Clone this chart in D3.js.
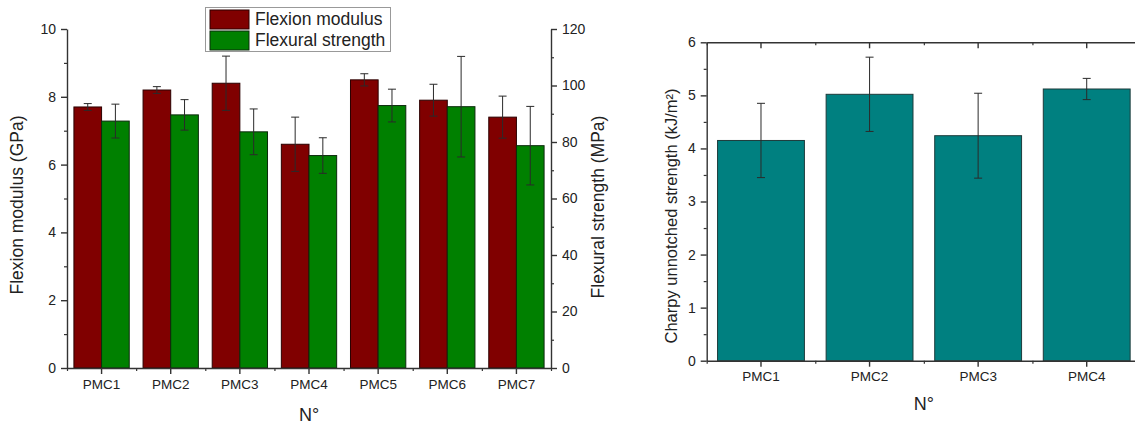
<!DOCTYPE html>
<html>
<head>
<meta charset="utf-8">
<script src="https://cdn.jsdelivr.net/npm/d3@7"></script>
<style>
  html, body { margin: 0; padding: 0; background: #fff; }
  svg { display: block; font-family: "Liberation Sans", Arial, sans-serif; }
</style>
</head>
<body>
<svg id="chart" width="1135" height="425"></svg>
<script>
// ---------- data ----------
const categoriesLeft = ["PMC1", "PMC2", "PMC3", "PMC4", "PMC5", "PMC6", "PMC7"];
const seriesNames = ["Flexion modulus", "Flexural strength"];
const flexionModulus = [7.7, 8.2, 8.4, 6.6, 8.5, 7.9, 7.4];
const flexionModulusErr = [0.1, 0.1, 0.8, 0.8, 0.18, 0.47, 0.62];
const flexuralStrength = [87.4, 89.6, 83.6, 75.2, 92.9, 92.5, 78.7];
const flexuralStrengthErr = [6.0, 5.4, 8.1, 6.3, 5.8, 17.8, 13.9];
const leftTicksGPa = [0, 2, 4, 6, 8, 10];
const rightTicksMPa = [0, 20, 40, 60, 80, 100, 120];

const categoriesRight = ["PMC1", "PMC2", "PMC3", "PMC4"];
const charpy = [4.15, 5.02, 4.24, 5.12];
const charpyErr = [0.7, 0.7, 0.8, 0.2];
const charpyTicks = [0, 1, 2, 3, 4, 5, 6];

// ---------- styles ----------
const RED = "#800000", GREEN = "#008000", TEAL = "#008080";
const AXIS = "#333", TXT = "#222";
const svg = d3.select("#chart");
const fmtInt = d3.format("d");

function styleAxis(g, fontSize) {
  g.selectAll("path.domain").attr("stroke", AXIS).attr("stroke-width", 1.4);
  g.selectAll(".tick line").attr("stroke", AXIS).attr("stroke-width", 1.4);
  g.selectAll(".tick text").attr("fill", TXT)
    .style("font-size", fontSize + "px")
    .style("font-family", '"Liberation Sans", Arial, sans-serif');
}
function minorAxis(g, axis) {
  g.call(axis);
  g.select("path.domain").remove();
  g.selectAll(".tick text").remove();
  g.selectAll(".tick line").attr("stroke", AXIS).attr("stroke-width", 1.2);
}
function errorBars(g, data, xf, yf, cap) {
  const eg = g.append("g").attr("stroke", "#2a2a2a").attr("stroke-width", 1).attr("fill", "none");
  data.forEach(d => {
    const cx = xf(d), top = yf(d.v + d.e), bot = yf(d.v - d.e);
    eg.append("line").attr("x1", cx).attr("x2", cx).attr("y1", top).attr("y2", bot);
    eg.append("line").attr("x1", cx - cap).attr("x2", cx + cap).attr("y1", top).attr("y2", top);
    eg.append("line").attr("x1", cx - cap).attr("x2", cx + cap).attr("y1", bot).attr("y2", bot);
  });
}

// ================= LEFT CHART =================
const L = { x0: 67, x1: 551, yTop: 29, yBot: 368 };
const xL = d3.scaleBand().domain(categoriesLeft).range([L.x0, L.x1]).paddingInner(0.2).paddingOuter(0.1);
const xLsub = d3.scaleBand().domain(seriesNames).range([0, xL.bandwidth()]);
const xLminor = d3.scaleLinear().domain([0, categoriesLeft.length]).range([L.x0, L.x1]);
const yL = d3.scaleLinear().domain([0, 10]).range([L.yBot, L.yTop]);
const yR = d3.scaleLinear().domain([0, 120]).range([L.yBot, L.yTop]);

const left = svg.append("g");
const rowsL = categoriesLeft.map((c, i) => ({
  c, mod: flexionModulus[i], modE: flexionModulusErr[i], str: flexuralStrength[i], strE: flexuralStrengthErr[i]
}));

// bars
left.append("g").selectAll("rect.mod").data(rowsL).join("rect")
  .attr("x", d => xL(d.c) + xLsub(seriesNames[0]))
  .attr("y", d => yL(d.mod))
  .attr("width", xLsub.bandwidth())
  .attr("height", d => yL(0) - yL(d.mod))
  .attr("fill", RED).attr("stroke", "#2b0000").attr("stroke-width", 1);
left.append("g").selectAll("rect.str").data(rowsL).join("rect")
  .attr("x", d => xL(d.c) + xLsub(seriesNames[1]))
  .attr("y", d => yR(d.str))
  .attr("width", xLsub.bandwidth())
  .attr("height", d => yR(0) - yR(d.str))
  .attr("fill", GREEN).attr("stroke", "#0c2a0c").attr("stroke-width", 1);

errorBars(left, rowsL.map(d => ({ c: d.c, v: d.mod, e: d.modE })),
  d => xL(d.c) + xLsub(seriesNames[0]) + xLsub.bandwidth() / 2, yL, 4);
errorBars(left, rowsL.map(d => ({ c: d.c, v: d.str, e: d.strE })),
  d => xL(d.c) + xLsub(seriesNames[1]) + xLsub.bandwidth() / 2, yR, 4);

// axes
const gLy = left.append("g").attr("transform", `translate(${L.x0},0)`)
  .call(d3.axisLeft(yL).tickValues(leftTicksGPa).tickFormat(fmtInt).tickSizeInner(6).tickSizeOuter(0).tickPadding(5));
styleAxis(gLy, 14);
minorAxis(left.append("g").attr("transform", `translate(${L.x0},0)`),
  d3.axisLeft(yL).tickValues([1, 3, 5, 7, 9]).tickSize(3));

const gRy = left.append("g").attr("transform", `translate(${L.x1},0)`)
  .call(d3.axisRight(yR).tickValues(rightTicksMPa).tickFormat(fmtInt).tickSizeInner(6).tickSizeOuter(0).tickPadding(5));
styleAxis(gRy, 14);
minorAxis(left.append("g").attr("transform", `translate(${L.x1},0)`),
  d3.axisRight(yR).tickValues([10, 30, 50, 70, 90, 110]).tickSize(3));

const gLx = left.append("g").attr("transform", `translate(0,${L.yBot})`)
  .call(d3.axisBottom(xL).tickSizeInner(6).tickSizeOuter(0).tickPadding(5));
styleAxis(gLx, 13.5);
minorAxis(left.append("g").attr("transform", `translate(0,${L.yBot})`),
  d3.axisBottom(xLminor).tickValues(d3.range(0, categoriesLeft.length + 1)).tickSize(3));

// titles
left.append("text").attr("transform", `translate(23,205) rotate(-90)`)
  .attr("text-anchor", "middle").attr("fill", TXT).style("font-size", "17.5px")
  .text("Flexion modulus (GPa)");
left.append("text").attr("transform", `translate(604,207) rotate(-90)`)
  .attr("text-anchor", "middle").attr("fill", TXT).style("font-size", "17.5px")
  .text("Flexural strength (MPa)");
left.append("text").attr("x", (L.x0 + L.x1) / 2).attr("y", 421)
  .attr("text-anchor", "middle").attr("fill", TXT).style("font-size", "18px").text("N°");

// legend
const lg = left.append("g");
lg.append("rect").attr("x", 205.5).attr("y", 7.5).attr("width", 185).attr("height", 44)
  .attr("fill", "#fff").attr("stroke", "#999").attr("stroke-width", 1);
[RED, GREEN].forEach((col, i) => {
  lg.append("rect").attr("x", 210).attr("y", 10 + i * 21).attr("width", 39).attr("height", 19)
    .attr("fill", col).attr("stroke", i === 0 ? "#2b0000" : "#0c2a0c").attr("stroke-width", 1);
  lg.append("text").attr("x", 255).attr("y", 25 + i * 21).attr("fill", TXT)
    .style("font-size", "17.5px").text(seriesNames[i]);
});

// ================= RIGHT CHART =================
const R = { x0: 706.7, x1: 1141, yTop: 42.3, yBot: 360.7 };
const xC = d3.scaleBand().domain(categoriesRight).range([R.x0, R.x1]).paddingInner(0.2).paddingOuter(0.1);
const xCminor = d3.scaleLinear().domain([0, categoriesRight.length]).range([R.x0, R.x1]);
const yC = d3.scaleLinear().domain([0, 6]).range([R.yBot, R.yTop]);
const right = svg.append("g");
const rowsR = categoriesRight.map((c, i) => ({ c, v: charpy[i], e: charpyErr[i] }));

right.append("g").selectAll("rect").data(rowsR).join("rect")
  .attr("x", d => xC(d.c)).attr("y", d => yC(d.v))
  .attr("width", xC.bandwidth()).attr("height", d => yC(0) - yC(d.v))
  .attr("fill", TEAL).attr("stroke", "#1d3b3b").attr("stroke-width", 1);
errorBars(right, rowsR, d => xC(d.c) + xC.bandwidth() / 2, yC, 4);

const halfTicks = [0.5, 1.5, 2.5, 3.5, 4.5, 5.5];
const gCy = right.append("g").attr("transform", `translate(${R.x0},0)`)
  .call(d3.axisLeft(yC).tickValues(charpyTicks).tickFormat(fmtInt).tickSizeInner(6).tickSizeOuter(0).tickPadding(5));
styleAxis(gCy, 14);
minorAxis(right.append("g").attr("transform", `translate(${R.x0},0)`),
  d3.axisLeft(yC).tickValues(halfTicks).tickSize(3));

const gCyR = right.append("g").attr("transform", `translate(${R.x1},0)`)
  .call(d3.axisRight(yC).tickValues(charpyTicks).tickSizeInner(-6).tickSizeOuter(0).tickFormat(""));
styleAxis(gCyR, 14);

const gCx = right.append("g").attr("transform", `translate(0,${R.yBot})`)
  .call(d3.axisBottom(xC).tickSizeInner(6).tickSizeOuter(0).tickPadding(5));
styleAxis(gCx, 13.5);
minorAxis(right.append("g").attr("transform", `translate(0,${R.yBot})`),
  d3.axisBottom(xCminor).tickValues(d3.range(0, categoriesRight.length + 1)).tickSize(3));

const gCt = right.append("g").attr("transform", `translate(0,${R.yTop})`)
  .call(d3.axisTop(xC).tickSizeInner(-6).tickSizeOuter(0).tickFormat(""));
styleAxis(gCt, 14);
minorAxis(right.append("g").attr("transform", `translate(0,${R.yTop})`),
  d3.axisTop(xCminor).tickValues(d3.range(0, categoriesRight.length + 1)).tickSize(-3));

right.append("text").attr("transform", `translate(677,216) rotate(-90)`)
  .attr("text-anchor", "middle").attr("fill", TXT).style("font-size", "16.5px")
  .text("Charpy unnotched strength (kJ/m²)");
right.append("text").attr("x", (R.x0 + R.x1) / 2).attr("y", 410)
  .attr("text-anchor", "middle").attr("fill", TXT).style("font-size", "18px").text("N°");
</script>
</body>
</html>
